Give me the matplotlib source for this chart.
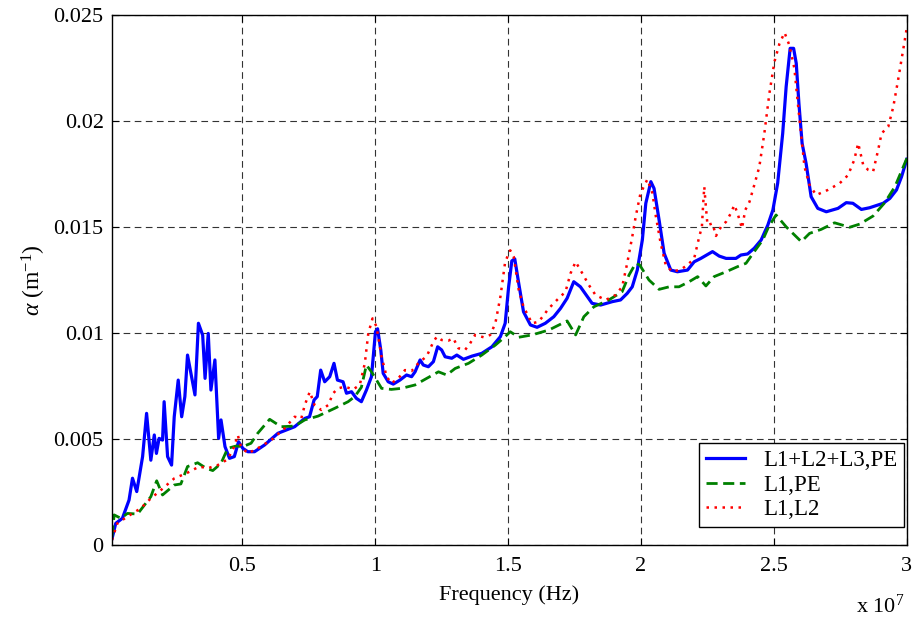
import matplotlib
matplotlib.use("Agg")
import matplotlib.pyplot as plt
import numpy as np

# frequency in units of 1e7 Hz, attenuation in units of 1e-3 1/m
blue_x = [0.01, 0.024, 0.049, 0.074, 0.087, 0.103, 0.125, 0.140, 0.156, 0.169,
          0.177, 0.187, 0.200, 0.206, 0.219, 0.234, 0.244, 0.259, 0.272, 0.284,
          0.294, 0.322, 0.335, 0.351, 0.360, 0.372, 0.382, 0.397, 0.411, 0.420,
          0.435, 0.452, 0.470, 0.486, 0.502, 0.521, 0.546, 0.584, 0.634, 0.697,
          0.735, 0.753, 0.770, 0.782, 0.795, 0.810, 0.829, 0.845, 0.858, 0.879,
          0.892, 0.911, 0.929, 0.948, 0.967, 0.986, 1.001, 1.009, 1.021, 1.030,
          1.049, 1.068, 1.093, 1.118, 1.137, 1.150, 1.169, 1.181, 1.200, 1.219,
          1.235, 1.250, 1.263, 1.288, 1.307, 1.332, 1.364, 1.401, 1.439, 1.471,
          1.489, 1.502, 1.514, 1.525, 1.540, 1.558, 1.584, 1.609, 1.640, 1.672,
          1.697, 1.722, 1.747, 1.772, 1.816, 1.848, 1.892, 1.923, 1.948, 1.967,
          1.986, 2.005, 2.018, 2.037, 2.049, 2.068, 2.087, 2.112, 2.137, 2.175,
          2.200, 2.225, 2.269, 2.294, 2.320, 2.357, 2.376, 2.401, 2.426, 2.452,
          2.477, 2.496, 2.514, 2.533, 2.546, 2.561, 2.574, 2.584, 2.594, 2.606,
          2.621, 2.640, 2.665, 2.697, 2.741, 2.772, 2.797, 2.829, 2.860, 2.911,
          2.936, 2.961, 2.980, 3.0]
blue_y = [0.3, 1.02, 1.26, 2.12, 3.15, 2.52, 4.17, 6.21, 4.0, 5.19,
          4.32, 5.03, 4.95, 6.76, 4.17, 3.77, 6.05, 7.78, 6.05, 7.0,
          8.96, 7.08, 10.46, 9.9, 7.86, 9.98, 7.31, 8.73, 5.03, 5.9,
          4.64, 4.09, 4.17, 4.87, 4.56, 4.40, 4.40, 4.72, 5.27, 5.58,
          5.97, 6.05, 6.84, 7.0, 8.25, 7.70, 7.94, 8.57, 7.78, 7.70,
          7.16, 7.23, 6.92, 6.76, 7.31, 7.94, 10.06, 10.2, 9.20, 8.10,
          7.70, 7.59, 7.78, 8.02, 7.94, 8.17, 8.73, 8.49, 8.41, 8.65,
          9.35, 9.20, 8.88, 8.81, 8.96, 8.76, 8.91, 9.04, 9.35, 9.83,
          10.46, 12.18, 13.4, 13.5, 12.34, 11.0, 10.38, 10.27, 10.46, 10.77,
          11.16, 11.64, 12.42, 12.18, 11.40, 11.32, 11.48, 11.56, 11.87, 12.18,
          12.97, 14.39, 16.12, 17.14, 16.82, 15.33, 13.76, 12.97, 12.89, 12.97,
          13.36, 13.52, 13.84, 13.63, 13.52, 13.52, 13.68, 13.73, 14.0, 14.39,
          15.09, 15.80, 17.06, 19.42, 21.62, 23.43, 23.43, 22.72, 20.83, 18.95,
          18.0, 16.43, 15.88, 15.72, 15.88, 16.15, 16.12, 15.83, 15.91, 16.12,
          16.35, 16.75, 17.37, 18.2]

green_x = [0.01, 0.018, 0.043, 0.068, 0.106, 0.156, 0.178, 0.200, 0.244, 0.269,
           0.294, 0.332, 0.364, 0.389, 0.420, 0.445, 0.477, 0.502, 0.533, 0.558,
           0.603, 0.646, 0.697, 0.735, 0.785, 0.848, 0.898, 0.923, 0.948, 0.967,
           0.986, 1.024, 1.061, 1.099, 1.150, 1.188, 1.238, 1.269, 1.301, 1.351,
           1.401, 1.452, 1.489, 1.508, 1.540, 1.590, 1.653, 1.722, 1.754, 1.785,
           1.823, 1.879, 1.929, 1.955, 1.980, 1.995, 2.030, 2.068, 2.106, 2.143,
           2.181, 2.213, 2.244, 2.275, 2.320, 2.363, 2.395, 2.426, 2.458, 2.480,
           2.508, 2.546, 2.603, 2.634, 2.678, 2.728, 2.785, 2.823, 2.873, 2.917,
           2.955, 3.0]
green_y = [0.4, 1.42, 1.26, 1.49, 1.46, 2.28, 3.03, 2.36, 2.83, 2.88,
           3.70, 3.88, 3.62, 3.51, 3.85, 4.56, 4.67, 4.64, 4.80, 5.27,
           5.93, 5.58, 5.61, 5.90, 6.08, 6.45, 6.76, 7.0, 7.44, 8.49,
           8.17, 7.39, 7.34, 7.39, 7.55, 7.82, 8.17, 8.02, 8.33, 8.57,
           8.96, 9.43, 9.83, 10.06, 9.80, 9.91, 10.14, 10.57, 9.91, 10.77,
           11.24, 11.56, 11.95, 12.74, 13.29, 13.21, 12.5, 12.06, 12.18, 12.18,
           12.42, 12.66, 12.22, 12.66, 12.89, 13.13, 13.29, 13.84, 14.39, 15.01,
           15.57, 15.01, 14.31, 14.70, 14.89, 15.20, 14.99, 15.14, 15.52, 16.15,
           16.90, 18.24]

red_x = [0.01, 0.030, 0.068, 0.118, 0.156, 0.194, 0.244, 0.294, 0.338, 0.370,
         0.408, 0.445, 0.470, 0.483, 0.495, 0.521, 0.558, 0.609, 0.659, 0.697,
         0.722, 0.735, 0.754, 0.772, 0.797, 0.823, 0.842, 0.860, 0.886, 0.917,
         0.942, 0.961, 0.974, 0.990, 1.005, 1.024, 1.043, 1.061, 1.087, 1.112,
         1.137, 1.162, 1.194, 1.219, 1.232, 1.250, 1.275, 1.294, 1.313, 1.338,
         1.357, 1.376, 1.408, 1.433, 1.452, 1.471, 1.489, 1.508, 1.521, 1.540,
         1.558, 1.590, 1.615, 1.653, 1.684, 1.716, 1.735, 1.754, 1.779, 1.804,
         1.829, 1.867, 1.904, 1.929, 1.948, 1.967, 1.980, 1.998, 2.024, 2.043,
         2.056, 2.074, 2.093, 2.118, 2.150, 2.175, 2.200, 2.219, 2.229, 2.234,
         2.238, 2.244, 2.250, 2.269, 2.282, 2.301, 2.320, 2.338, 2.351, 2.363,
         2.380, 2.392, 2.408, 2.426, 2.445, 2.464, 2.483, 2.502, 2.521, 2.540,
         2.558, 2.577, 2.590, 2.603, 2.615, 2.634, 2.659, 2.703, 2.747, 2.779,
         2.802, 2.817, 2.836, 2.855, 2.873, 2.892, 2.905, 2.930, 2.949, 2.967,
         2.986, 3.0]
red_y = [0.24, 1.02, 1.34, 1.73, 2.20, 2.59, 3.14, 3.41, 3.70, 3.62,
         3.77, 4.04, 4.64, 5.19, 4.64, 4.32, 4.56, 4.95, 5.50, 6.05,
         5.97, 6.60, 7.23, 6.60, 6.37, 6.60, 7.16, 7.39, 7.47, 7.34,
         7.55, 8.57, 9.98, 10.69, 10.30, 8.88, 7.94, 7.63, 7.86, 8.25,
         8.21, 8.57, 8.91, 9.59, 9.83, 9.67, 9.64, 9.75, 9.28, 9.20,
         9.51, 9.91, 9.80, 9.91, 10.46, 11.71, 13.36, 13.9, 13.6, 12.03,
         11.24, 10.46, 10.53, 11.16, 11.56, 11.95, 12.82, 13.36, 12.82, 12.26,
         11.79, 11.56, 11.79, 12.18, 13.29, 14.54, 15.49, 16.59, 17.25, 16.59,
         15.49, 14.23, 13.21, 12.89, 13.0, 13.21, 13.52, 14.54, 15.01, 16.12,
         16.90, 15.96, 15.09, 15.17, 14.58, 15.01, 15.25, 15.65, 16.04, 15.65,
         14.94, 15.80, 16.19, 16.98, 17.84, 19.42, 21.31, 22.8, 23.66, 24.17,
         23.58, 22.48, 20.83, 19.26, 17.84, 16.98, 16.51, 16.75, 17.06, 17.45,
         18.16, 18.95, 17.92, 17.69, 17.61, 18.63, 19.42, 19.73, 20.67, 21.93,
         23.35, 24.4]

labels = ["L1+L2+L3,PE", "L1,PE", "L1,L2"]
xticks = [0.5, 1, 1.5, 2, 2.5, 3]
xtick_labels = ["0.5", "1", "1.5", "2", "2.5", "3"]
yticks = [0, 0.005, 0.01, 0.015, 0.02, 0.025]
ytick_labels = ["0", "0.005", "0.01", "0.015", "0.02", "0.025"]

plt.rcParams["font.family"] = "Liberation Serif"
plt.rcParams["mathtext.fontset"] = "custom"
plt.rcParams["mathtext.rm"] = "Liberation Serif"
plt.rcParams["mathtext.it"] = "Liberation Serif:italic"

fig = plt.figure(figsize=(9.16, 6.22), dpi=100)
ax = fig.add_axes([0.1223, 0.1238, 0.8677, 0.852])

ax.plot(blue_x, np.array(blue_y) * 1e-3, color="#0000ff", lw=2.3, label=labels[0])
ax.plot(green_x, np.array(green_y) * 1e-3, color="#008000", lw=2.0,
        linestyle=(0, (4, 2)), label=labels[1])
ax.plot(red_x, np.array(red_y) * 1e-3, color="#ff0000", lw=1.8,
        linestyle=(0, (1, 2.2)), label=labels[2])

ax.set_xlim(0.01, 3)
ax.set_ylim(0, 0.025)
ax.set_xticks(xticks)
ax.set_xticklabels(xtick_labels)
ax.set_yticks(yticks)
ax.set_yticklabels(ytick_labels)
ax.tick_params(direction="in", top=True, right=True, labelsize=16, length=5)
ax.tick_params(axis="x", pad=9)
ax.tick_params(axis="y", pad=6)
ax.grid(True, color="0.2", linestyle=(0, (6, 4)), linewidth=0.8)
for sp in ax.spines.values():
    sp.set_linewidth(1.0)

ax.set_xlabel("Frequency (Hz)", fontsize=16, labelpad=6)
ax.set_ylabel(r"$\alpha$ (m$^{-1}$)", fontsize=17, labelpad=4)
fig.text(0.935, 0.015, r"x 10$^7$", fontsize=16)

leg = ax.legend(loc="lower right", bbox_to_anchor=(0.997, 0.034), fontsize=16.5,
                fancybox=False, framealpha=1, edgecolor="black",
                handlelength=1.7, handletextpad=0.8, borderpad=0.3,
                labelspacing=0.15, borderaxespad=0)
leg.get_frame().set_linewidth(1.0)

fig.savefig("out.png", dpi=100)
